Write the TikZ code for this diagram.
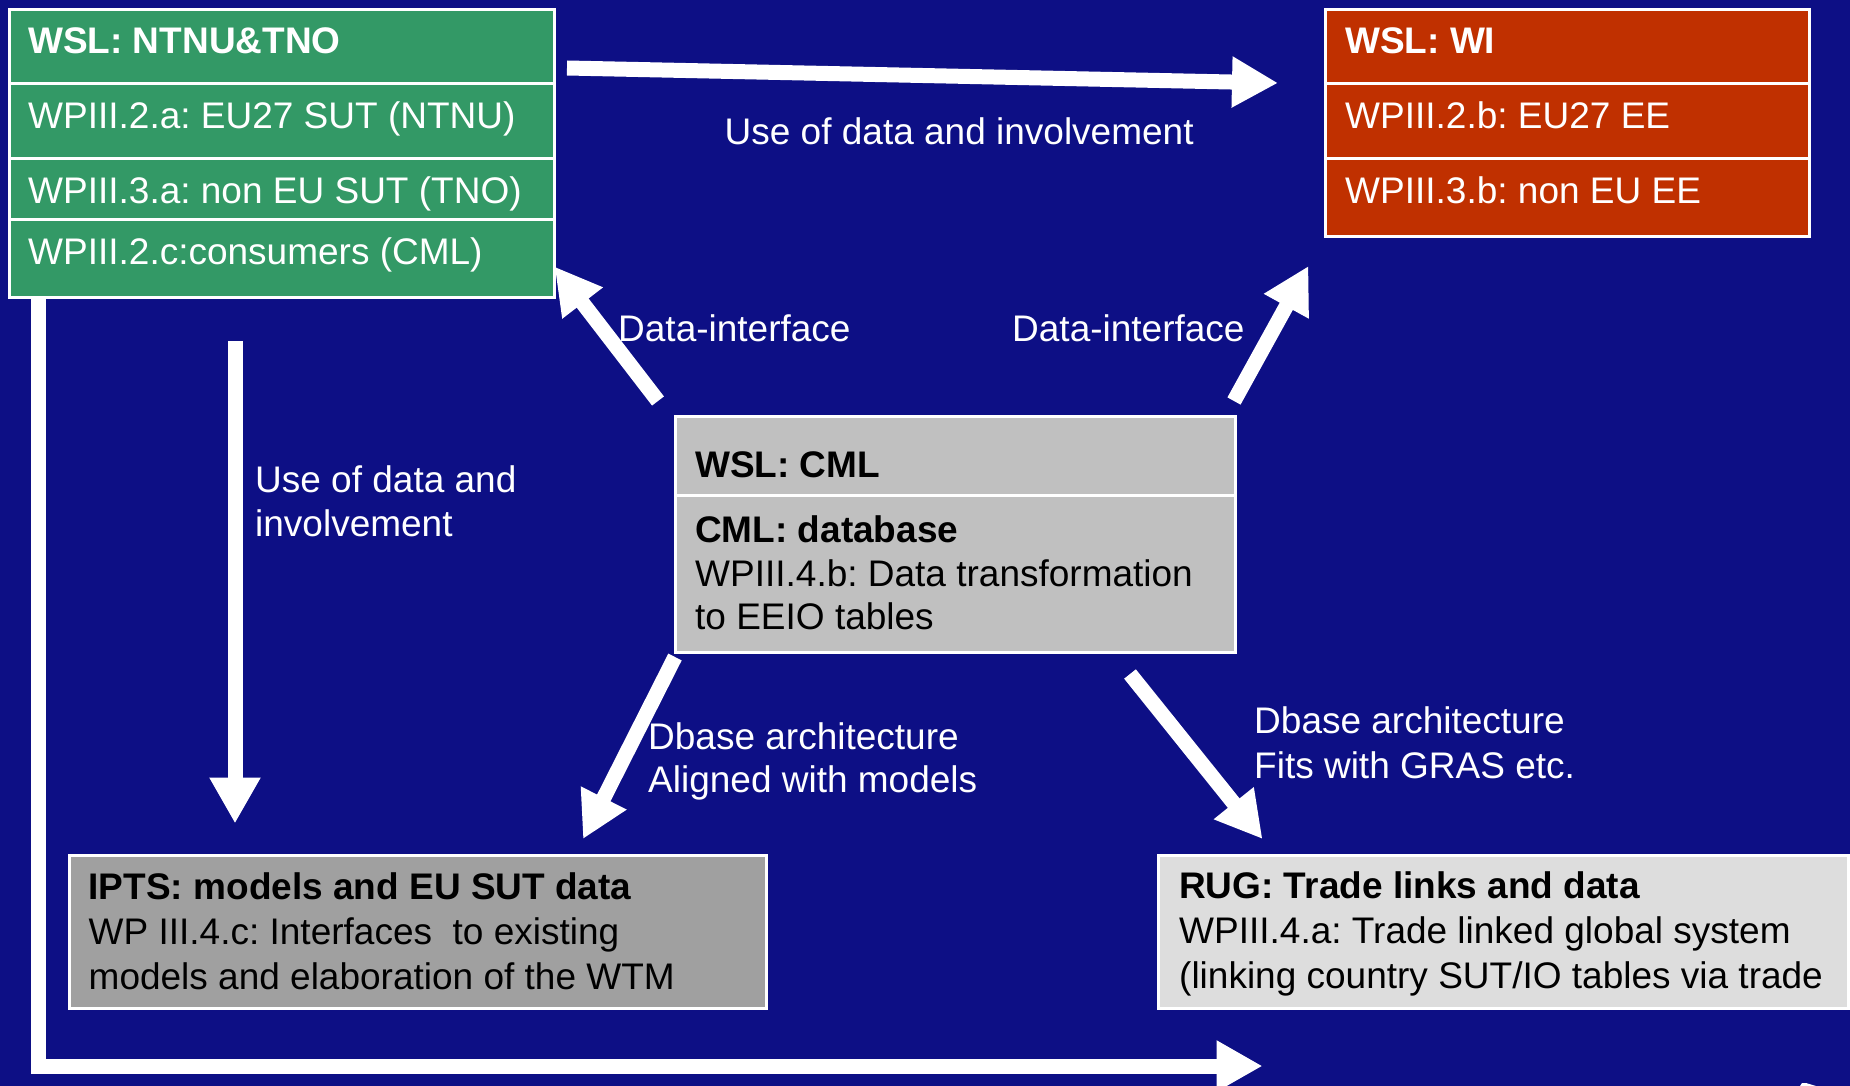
\documentclass[tikz,border=0pt]{standalone}
\usepackage{fontspec}
\setmainfont{Liberation Sans}
\usetikzlibrary{arrows.meta}
\definecolor{bg}{RGB}{13,15,133}
\definecolor{grn}{RGB}{51,153,102}
\definecolor{rd}{RGB}{192,48,0}
\definecolor{cmlgray}{RGB}{192,192,192}
\definecolor{iptsgray}{RGB}{160,160,160}
\definecolor{ruggray}{RGB}{221,221,221}
\frenchspacing
\begin{document}
\frenchspacing
\begin{tikzpicture}[x=1pt,y=-1pt,
  box/.style={draw=white,line width=3pt,rectangle,inner sep=0pt,anchor=north west},
  sepline/.style={draw=white,line width=3pt},
  lbl/.style={anchor=base west,inner sep=0pt,font=\fontsize{37}{44}\selectfont\frenchspacing},
  wlbl/.style={lbl,text=white},
  blbl/.style={lbl,text=black},
  bigarrow/.style={draw=white,line width=15pt,-{Triangle[length=46pt,width=48pt]}},
]
\fill[bg] (0,0) rectangle (1850,1086);
\useasboundingbox (0,0) rectangle (1850,1086);

% boxes
\node[box,fill=grn,minimum width=545pt,minimum height=288pt] (ntnu) at (8,8) {};
\draw[sepline] (8,84) -- (553,84);
\draw[sepline] (8,158.6) -- (553,158.6);
\draw[sepline] (8,220) -- (553,220);

\node[box,fill=rd,minimum width=484pt,minimum height=227pt] (wi) at (1324,8) {};
\draw[sepline] (1324,84) -- (1808,84);
\draw[sepline] (1324,158.6) -- (1808,158.6);

\node[box,fill=cmlgray,minimum width=560pt,minimum height=236pt] (cml) at (674,415) {};
\draw[sepline] (674,495) -- (1234,495);

\node[box,fill=iptsgray,minimum width=697pt,minimum height=153pt] (ipts) at (68,854) {};
\node[box,fill=ruggray,minimum width=690pt,minimum height=153pt] (rug) at (1157,854) {};

% box texts
\node[wlbl,font=\fontsize{37}{44}\selectfont\bfseries] (t1) at (28,53.7) {WSL: NTNU\&TNO};
\node[wlbl] (t2) at (28,128.8) {WPIII.2.a: EU27 SUT (NTNU)};
\node[wlbl] (t3) at (28,203.6) {WPIII.3.a: non EU SUT (TNO)};
\node[wlbl] (t4) at (28,265) {WPIII.2.c:consumers (CML)};

\node[wlbl,font=\fontsize{37}{44}\selectfont\bfseries] (r1) at (1345,53.7) {WSL: WI};
\node[wlbl] (r2) at (1345,128.8) {WPIII.2.b: EU27 EE};
\node[wlbl] (r3) at (1345,204) {WPIII.3.b: non EU EE};

\node[blbl,font=\fontsize{37}{44}\selectfont\bfseries] (c1) at (695,477) {WSL: CML};
\node[blbl,font=\fontsize{37}{44}\selectfont\bfseries] (c2) at (695,542) {CML: database};
\node[blbl] (c3) at (695,586) {WPIII.4.b: Data transformation};
\node[blbl] (c4) at (695,629.6) {to EEIO tables};

\node[blbl,font=\fontsize{37}{44}\selectfont\bfseries] (i1) at (88.5,899.6) {IPTS: models and EU SUT data};
\node[blbl] (i2) at (88.5,944.7) {WP III.4.c: Interfaces\ \ to existing};
\node[blbl] (i3) at (88.5,989.7) {models and elaboration of the WTM};

\node[blbl,font=\fontsize{37}{44}\selectfont\bfseries] (g1) at (1179,898) {RUG: Trade links and data};
\node[blbl] (g2) at (1179,943) {WPIII.4.a: Trade linked global system};
\node[blbl] (g3) at (1179,988) {(linking country SUT/IO tables via trade};

% arrow end points
\coordinate (a1s) at (567,68);   \coordinate (a1e) at (1278,83);
\coordinate (a2s) at (658,401);  \coordinate (a2e) at (554.6,266.6);
\coordinate (a3s) at (1234,401); \coordinate (a3e) at (1308.5,266);
\coordinate (a4s) at (675,657);  \coordinate (a4e) at (583,839);
\coordinate (a5s) at (1130,674); \coordinate (a5e) at (1262.5,839);
\coordinate (a6s) at (235,341);  \coordinate (a6e) at (235,823.5);
\coordinate (a7s) at (38,297);   \coordinate (a7c) at (38,1066); \coordinate (a7e) at (1262.5,1066);

\draw[bigarrow] (a1s) -- (a1e);
\draw[bigarrow] (a2s) -- (a2e);
\draw[bigarrow] (a3s) -- (a3e);
\draw[bigarrow] (a4s) -- (a4e);
\draw[bigarrow] (a5s) -- (a5e);
\draw[bigarrow] (a6s) -- (a6e);
\draw[bigarrow] (a7s) -- (a7c) -- (a7e);
\fill[white] (1800,1086) -- (1802,1083) -- (1806,1083) -- (1816,1086) -- cycle;

% connector labels
\node[wlbl] (l1) at (724.5,144.7) {Use of data and involvement};
\node[wlbl] (l2) at (618,341) {Data-interface};
\node[wlbl] (l3) at (1012,341) {Data-interface};
\node[wlbl] (l4a) at (255,492) {Use of data and};
\node[wlbl] (l4b) at (255,536) {involvement};
\node[wlbl] (l5a) at (648,749) {Dbase architecture};
\node[wlbl] (l5b) at (648,792) {Aligned with models};
\node[wlbl] (l6a) at (1254,733.4) {Dbase architecture};
\node[wlbl] (l6b) at (1254,778.5) {Fits with GRAS etc.};
\end{tikzpicture}
\end{document}
